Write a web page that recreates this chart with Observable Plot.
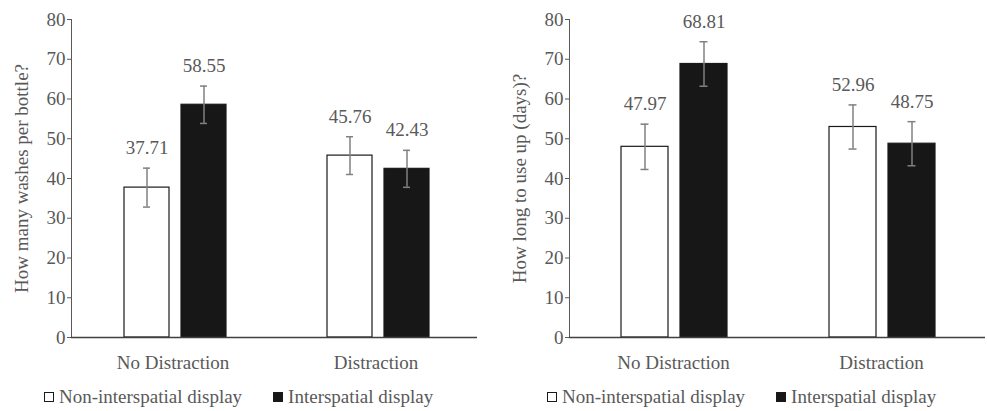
<!DOCTYPE html>
<html>
<head>
<meta charset="utf-8">
<script src="https://cdn.jsdelivr.net/npm/d3@7"></script>
<script src="https://cdn.jsdelivr.net/npm/@observablehq/plot@0.6"></script>
<style>
  html, body { margin: 0; padding: 0; background: #fff; }
  #fig { position: relative; width: 987px; height: 411px; background: #fff; font-family: "Liberation Serif", "Times New Roman", serif; }
  .panel { position: absolute; top: 0; }
  .legend { position: absolute; top: 386px; height: 22px; display: flex; gap: 31px; align-items: center; font-size: 19px; color: #595959; line-height: 22px; white-space: nowrap; }
  .item { display: flex; align-items: center; }
  .sw { width: 10px; height: 10px; box-sizing: border-box; margin-right: 5px; }
</style>
</head>
<body>
<div id="fig"></div>
<script>
// ---- data ----
const groups = ["No Distraction", "Distraction"];
const series = ["Non-interspatial display", "Interspatial display"];
const washes = [37.71, 58.55, 45.76, 42.43];      // order: ND-non, ND-inter, D-non, D-inter
const washesErr = [4.9, 4.7, 4.75, 4.65];
const days = [47.97, 68.81, 52.96, 48.75];
const daysErr = [5.7, 5.6, 5.55, 5.55];
const yTicks = [0, 10, 20, 30, 40, 50, 60, 70, 80];
const yLabels = ["How many washes per bottle?", "How long to use up (days)?"];
const seriesFill = ["#ffffff", "#171717"];

function rowsFor(values, errs) {
  const rows = [];
  groups.forEach((g, gi) => {
    series.forEach((s, si) => {
      const i = gi * 2 + si;
      rows.push({group: g, series: s, value: values[i], lo: values[i] - errs[i], hi: values[i] + errs[i]});
    });
  });
  return rows;
}

function panel(values, errs, label, opts) {
  const data = rowsFor(values, errs);
  return Plot.plot({
    width: opts.width,
    height: 380,
    marginLeft: 70,
    marginRight: opts.marginRight,
    marginTop: 19,
    marginBottom: 43,
    style: {fontFamily: "'Liberation Serif', 'Times New Roman', serif", fontSize: "19px", color: "#595959", background: "transparent"},
    fx: {domain: groups, padding: 0, axis: "bottom", label: null, tickSize: 0, tickPadding: 18},
    x: {domain: series, paddingInner: opts.pi, paddingOuter: opts.po, align: opts.align, axis: null},
    y: {domain: [0, 80], ticks: yTicks, tickSize: 4, tickPadding: 2, line: true, label: label, labelAnchor: "center", labelOffset: 57, labelArrow: "none"},
    color: {domain: series, range: seriesFill},
    marks: [
      Plot.barY(data, {fx: "group", x: "series", y: "value", fill: "series", stroke: "#1a1a1a", strokeWidth: 1.2}),
      Plot.ruleY([0], {stroke: "#404040", strokeWidth: 1.3}),
      Plot.ruleX(data, {fx: "group", x: "series", y1: "lo", y2: "hi", stroke: "#808080", strokeWidth: 1.5}),
      Plot.tickY(data, {fx: "group", x: "series", y: "hi", stroke: "#808080", strokeWidth: 1.5, insetLeft: opts.cap, insetRight: opts.cap}),
      Plot.tickY(data, {fx: "group", x: "series", y: "lo", stroke: "#808080", strokeWidth: 1.5, insetLeft: opts.cap, insetRight: opts.cap}),
      Plot.text(data, {fx: "group", x: "series", y: "hi", text: d => d.value.toFixed(2), dy: -20, fill: "#595959", fontSize: 19})
    ]
  });
}

const fig = document.getElementById("fig");

function addPanel(svg, left, legendLeft) {
  const wrap = document.createElement("div");
  wrap.className = "panel";
  wrap.style.left = left + "px";
  wrap.appendChild(svg);
  fig.appendChild(wrap);
  const lg = document.createElement("div");
  lg.className = "legend";
  lg.style.left = legendLeft + "px";
  series.forEach((s, i) => {
    const it = document.createElement("div");
    it.className = "item";
    const sw = document.createElement("span");
    sw.className = "sw";
    sw.style.background = seriesFill[i];
    sw.style.border = "1px solid #1a1a1a";
    it.appendChild(sw);
    const t = document.createElement("span");
    t.textContent = s;
    it.appendChild(t);
    lg.appendChild(it);
  });
  fig.appendChild(lg);
}

addPanel(panel(washes, washesErr, yLabels[0], {width: 480, marginRight: 3, pi: 0.21, po: 0.87, align: 0.52, cap: 19}), 0, 44);
addPanel(panel(days, daysErr, yLabels[1], {width: 488, marginRight: 2, pi: 0.203, po: 0.864, align: 0.508, cap: 19.5}), 499, 547);
</script>
</body>
</html>
